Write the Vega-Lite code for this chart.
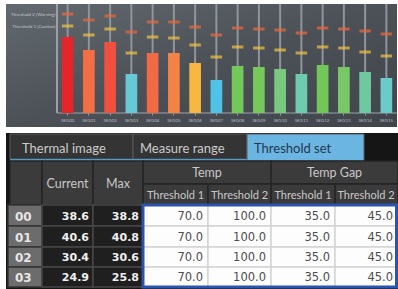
{
  "$schema": "https://vega.github.io/schema/vega-lite/v6.json",
  "background": "#ffffff",
  "padding": {"left": 6, "top": 3, "right": 0, "bottom": 0},
  "spacing": 6,
  "config": {"view": {"stroke": null}, "font": "Lato"},
  "datasets": {
    "segments": [
      {"seg": "SEG00", "current": 76, "warning": 99, "caution": 87},
      {"seg": "SEG01", "current": 63, "warning": 93, "caution": 78},
      {"seg": "SEG02", "current": 71, "warning": 97, "caution": 84},
      {"seg": "SEG03", "current": 39, "warning": 81, "caution": 60},
      {"seg": "SEG04", "current": 60, "warning": 91, "caution": 76},
      {"seg": "SEG05", "current": 60, "warning": 91, "caution": 75},
      {"seg": "SEG06", "current": 50, "warning": 86, "caution": 68},
      {"seg": "SEG07", "current": 33, "warning": 78, "caution": 56},
      {"seg": "SEG08", "current": 47, "warning": 85, "caution": 66},
      {"seg": "SEG09", "current": 46, "warning": 84, "caution": 65},
      {"seg": "SEG10", "current": 44, "warning": 83, "caution": 63},
      {"seg": "SEG11", "current": 39, "warning": 80, "caution": 60},
      {"seg": "SEG12", "current": 48, "warning": 85, "caution": 66},
      {"seg": "SEG13", "current": 46, "warning": 84, "caution": 65},
      {"seg": "SEG14", "current": 41, "warning": 82, "caution": 61},
      {"seg": "SEG15", "current": 35, "warning": 79, "caution": 57}
    ],
    "tabs": [
      {"label": "Thermal image", "x0": 4, "x1": 127, "y0": 1, "y1": 26, "tx": 16, "ty": 15.5, "state": "off"},
      {"label": "Measure range", "x0": 127, "x1": 241, "y0": 1, "y1": 26, "tx": 134, "ty": 15.5, "state": "off"},
      {"label": "Threshold set", "x0": 241, "x1": 358, "y0": 1, "y1": 28, "tx": 248, "ty": 15.5, "state": "on"}
    ],
    "headers": [
      {"label": "", "x0": 4, "x1": 36, "y0": 28, "y1": 72, "xc": 20, "yc": 51, "level": 1},
      {"label": "Current", "x0": 36, "x1": 87, "y0": 28, "y1": 72, "xc": 61.5, "yc": 51, "level": 1},
      {"label": "Max", "x0": 87, "x1": 137, "y0": 28, "y1": 72, "xc": 112, "yc": 51, "level": 1},
      {"label": "Temp", "x0": 137, "x1": 265, "y0": 28, "y1": 51, "xc": 201, "yc": 40, "level": 1},
      {"label": "Temp Gap", "x0": 265, "x1": 392, "y0": 28, "y1": 51, "xc": 328.5, "yc": 40, "level": 1},
      {"label": "Threshold 1", "x0": 137, "x1": 202, "y0": 51, "y1": 72, "xc": 169.5, "yc": 62.5, "level": 2},
      {"label": "Threshold 2", "x0": 202, "x1": 265, "y0": 51, "y1": 72, "xc": 233.5, "yc": 62.5, "level": 2},
      {"label": "Threshold 1", "x0": 265, "x1": 329, "y0": 51, "y1": 72, "xc": 297, "yc": 62.5, "level": 2},
      {"label": "Threshold 2", "x0": 329, "x1": 392, "y0": 51, "y1": 72, "xc": 360, "yc": 62.5, "level": 2}
    ],
    "columns": [
      {"key": "current", "x0": 36, "x1": 87},
      {"key": "max", "x0": 87, "x1": 137},
      {"key": "t1", "x0": 137, "x1": 202},
      {"key": "t2", "x0": 202, "x1": 265},
      {"key": "g1", "x0": 265, "x1": 329},
      {"key": "g2", "x0": 329, "x1": 392}
    ],
    "rowBands": [
      {"row": "00", "y0": 72, "y1": 93, "yc": 84},
      {"row": "01", "y0": 93, "y1": 114, "yc": 104.5},
      {"row": "02", "y0": 114, "y1": 134, "yc": 125},
      {"row": "03", "y0": 134, "y1": 154, "yc": 144.5}
    ],
    "tableRows": [
      {"row": "00", "current": 38.6, "max": 38.8, "t1": 70, "t2": 100, "g1": 35, "g2": 45},
      {"row": "01", "current": 40.6, "max": 40.8, "t1": 70, "t2": 100, "g1": 35, "g2": 45},
      {"row": "02", "current": 30.4, "max": 30.6, "t1": 70, "t2": 100, "g1": 35, "g2": 45},
      {"row": "03", "current": 24.9, "max": 25.8, "t1": 70, "t2": 100, "g1": 35, "g2": 45}
    ]
  },
  "vconcat": [
    {
      "width": 391,
      "height": 123,
      "resolve": {"axis": {"x": "independent", "y": "independent"}},
      "layer": [
        {
          "data": {"values": [{}]},
          "mark": {"type": "rect", "color": {"gradient": "linear", "x1": 0, "y1": 0, "x2": 1, "y2": 1, "stops": [{"offset": 0, "color": "#62696f"}, {"offset": 0.5, "color": "#4b5157"}, {"offset": 1, "color": "#3f454b"}]}},
          "encoding": {}
        },
        {
          "data": {"name": "segments"},
          "mark": {"type": "rule", "color": "#8f959b", "strokeWidth": 2},
          "encoding": {
            "x": {"field": "seg", "type": "nominal", "axis": null},
            "y": {"datum": 109, "type": "quantitative", "axis": null},
            "y2": {"datum": 0}
          }
        },
        {
          "data": {"name": "segments"},
          "transform": [{"filter": "datum.seg == 'SEG00'"}],
          "mark": {"type": "rule", "color": "#9aa0a6", "strokeWidth": 2},
          "encoding": {
            "x": {"field": "seg", "type": "nominal", "bandPosition": -0.41, "axis": null},
            "y": {"datum": 109, "type": "quantitative", "axis": null},
            "y2": {"datum": 0}
          }
        },
        {
          "data": {"name": "segments"},
          "mark": {"type": "tick", "size": 21.25, "thickness": 1.5, "color": "#9aa0a6"},
          "encoding": {
            "x": {"field": "seg", "type": "nominal", "axis": null},
            "y": {"datum": 0, "type": "quantitative", "axis": null}
          }
        },
        {
          "data": {"name": "segments"},
          "mark": {"type": "bar"},
          "encoding": {
            "x": {
              "field": "seg", "type": "nominal",
              "scale": {"range": [51, 391], "paddingInner": 0.45, "paddingOuter": 0.225},
              "axis": {"orient": "bottom", "offset": -14, "zindex": 1, "domain": false, "ticks": true, "tickSize": 2, "tickColor": "#9aa0a6", "tickWidth": 1, "labelFontSize": 4.5, "labelColor": "#b4bac0", "labelPadding": 2, "labelAngle": 0, "title": null, "grid": false}
            },
            "y": {"field": "current", "type": "quantitative", "scale": {"domain": [-14, 109], "nice": false, "zero": false},
              "axis": {"orient": "left", "offset": -51, "zindex": 1, "values": [99, 87], "labelExpr": "datum.value == 99 ? 'Threshold 2 (Warning)' : 'Threshold 1 (Caution)'", "domain": false, "ticks": false, "grid": false, "labelFontSize": 4.6, "labelColor": "#c0c6cc", "labelPadding": 2, "title": null}},
            "color": {"field": "seg", "type": "nominal", "legend": null,
              "scale": {"range": ["#e4262b", "#f36f43", "#f0513f", "#67c9d6", "#f26a44", "#f58345", "#f8b740", "#4fc3e6", "#73c85a", "#77c85a", "#78c97f", "#6fcbb0", "#72c759", "#79c868", "#6fc8a0", "#6bcbc9"]}}
          }
        },
        {
          "data": {"name": "segments"},
          "mark": {"type": "tick", "size": 11.5, "thickness": 3, "color": "#f0673a"},
          "encoding": {
            "x": {"field": "seg", "type": "nominal", "axis": null},
            "y": {"field": "warning", "type": "quantitative", "axis": null}
          }
        },
        {
          "data": {"name": "segments"},
          "mark": {"type": "tick", "size": 11.5, "thickness": 3, "color": "#f5c33e"},
          "encoding": {
            "x": {"field": "seg", "type": "nominal", "axis": null},
            "y": {"field": "caution", "type": "quantitative", "axis": null}
          }
        }
      ]
    },
    {
      "width": 392,
      "height": 157,
      "resolve": {"scale": {"color": "independent", "stroke": "independent"}},
      "layer": [
        {
          "data": {"values": [{}]},
          "mark": {"type": "rect", "color": "#151515"},
          "encoding": {}
        },
        {
          "data": {"name": "tabs"},
          "mark": {"type": "rect", "stroke": "#5a5a5a", "strokeWidth": 1},
          "encoding": {
            "x": {"field": "x0", "type": "quantitative", "scale": {"domain": [0, 392], "nice": false, "zero": false}, "axis": null},
            "x2": {"field": "x1"},
            "y": {"field": "y0", "type": "quantitative", "scale": {"domain": [0, 157], "reverse": true, "nice": false, "zero": false}, "axis": null},
            "y2": {"field": "y1"},
            "color": {"field": "state", "type": "nominal", "scale": {"domain": ["off", "on"], "range": ["#343434", "#6bb5e3"]}, "legend": null}
          }
        },
        {
          "data": {"name": "tabs"},
          "mark": {"type": "text", "align": "left", "baseline": "middle", "fontSize": 13, "font": "Lato"},
          "encoding": {
            "x": {"field": "tx", "type": "quantitative", "axis": null},
            "y": {"field": "ty", "type": "quantitative", "axis": null},
            "text": {"field": "label"},
            "color": {"field": "state", "type": "nominal", "scale": {"domain": ["off", "on"], "range": ["#cccccc", "#24384f"]}, "legend": null}
          }
        },
        {
          "data": {"values": [{}]},
          "mark": {"type": "rect", "color": "#4d9dd2"},
          "encoding": {
            "x": {"datum": 4, "type": "quantitative", "axis": null},
            "x2": {"datum": 241},
            "y": {"datum": 26, "type": "quantitative", "axis": null},
            "y2": {"datum": 28}
          }
        },
        {
          "data": {"name": "headers"},
          "mark": {"type": "rect", "color": "#3b3b3b", "stroke": "#242424", "strokeWidth": 1.5},
          "encoding": {
            "x": {"field": "x0", "type": "quantitative", "axis": null},
            "x2": {"field": "x1"},
            "y": {"field": "y0", "type": "quantitative", "axis": null},
            "y2": {"field": "y1"}
          }
        },
        {
          "data": {"name": "headers"},
          "transform": [{"filter": "datum.level == 1"}],
          "mark": {"type": "text", "align": "center", "baseline": "middle", "fontSize": 12.5, "font": "Lato", "color": "#c8c8c8"},
          "encoding": {
            "x": {"field": "xc", "type": "quantitative", "axis": null},
            "y": {"field": "yc", "type": "quantitative", "axis": null},
            "text": {"field": "label"}
          }
        },
        {
          "data": {"name": "headers"},
          "transform": [{"filter": "datum.level == 2"}],
          "mark": {"type": "text", "align": "center", "baseline": "middle", "fontSize": 11, "font": "Lato", "color": "#c8c8c8"},
          "encoding": {
            "x": {"field": "xc", "type": "quantitative", "axis": null},
            "y": {"field": "yc", "type": "quantitative", "axis": null},
            "text": {"field": "label"}
          }
        },
        {
          "data": {"name": "tableRows"},
          "transform": [{"lookup": "row", "from": {"data": {"name": "rowBands"}, "key": "row", "fields": ["y0", "y1", "yc"]}}],
          "layer": [
            {
              "mark": {"type": "rect", "color": "#6c6c6c", "stroke": "#353535", "strokeWidth": 1.5},
              "encoding": {
                "x": {"datum": 2, "type": "quantitative", "axis": null},
                "x2": {"datum": 36},
                "y": {"field": "y0", "type": "quantitative", "axis": null},
                "y2": {"field": "y1"}
              }
            },
            {
              "mark": {"type": "text", "align": "left", "baseline": "middle", "dx": 7, "font": "DejaVu Sans", "fontSize": 12, "fontWeight": "bold", "color": "#e6e6e6"},
              "encoding": {
                "x": {"datum": 2, "type": "quantitative", "axis": null},
                "y": {"field": "yc", "type": "quantitative", "axis": null},
                "text": {"field": "row"}
              }
            }
          ]
        },
        {
          "data": {"name": "tableRows"},
          "transform": [
            {"fold": ["current", "max", "t1", "t2", "g1", "g2"], "as": ["key", "value"]},
            {"lookup": "key", "from": {"data": {"name": "columns"}, "key": "key", "fields": ["x0", "x1"]}},
            {"lookup": "row", "from": {"data": {"name": "rowBands"}, "key": "row", "fields": ["y0", "y1", "yc"]}}
          ],
          "layer": [
            {
              "mark": {"type": "rect", "strokeWidth": 1.5},
              "encoding": {
                "x": {"field": "x0", "type": "quantitative", "axis": null},
                "x2": {"field": "x1"},
                "y": {"field": "y0", "type": "quantitative", "axis": null},
                "y2": {"field": "y1"},
                "color": {"field": "key", "type": "nominal", "legend": null, "scale": {"domain": ["current", "max", "t1", "t2", "g1", "g2"], "range": ["#1f1f1f", "#1f1f1f", "#fdfdfd", "#fdfdfd", "#fdfdfd", "#fdfdfd"]}},
                "stroke": {"field": "key", "type": "nominal", "legend": null, "scale": {"domain": ["current", "max", "t1", "t2", "g1", "g2"], "range": ["#474747", "#474747", "#d3d3d3", "#d3d3d3", "#d3d3d3", "#d3d3d3"]}}
              }
            },
            {
              "transform": [{"filter": "datum.key == 'current' || datum.key == 'max'"}],
              "mark": {"type": "text", "align": "right", "baseline": "middle", "dx": -4, "font": "DejaVu Sans", "fontSize": 11, "fontWeight": "bold", "color": "#efefef"},
              "encoding": {
                "x": {"field": "x1", "type": "quantitative", "axis": null},
                "y": {"field": "yc", "type": "quantitative", "axis": null},
                "text": {"field": "value", "type": "quantitative", "format": ".1f"}
              }
            },
            {
              "transform": [{"filter": "datum.key != 'current' && datum.key != 'max'"}],
              "mark": {"type": "text", "align": "right", "baseline": "middle", "dx": -5, "font": "DejaVu Sans", "fontSize": 11.5, "color": "#4d4d4d"},
              "encoding": {
                "x": {"field": "x1", "type": "quantitative", "axis": null},
                "y": {"field": "yc", "type": "quantitative", "axis": null},
                "text": {"field": "value", "type": "quantitative", "format": ".1f"}
              }
            }
          ]
        },
        {
          "data": {"values": [{}]},
          "mark": {"type": "rect", "fillOpacity": 0, "stroke": "#2a55ae", "strokeWidth": 3},
          "encoding": {
            "x": {"datum": 137, "type": "quantitative", "axis": null},
            "x2": {"datum": 390.5},
            "y": {"datum": 72, "type": "quantitative", "axis": null},
            "y2": {"datum": 154}
          }
        }
      ]
    }
  ]
}
